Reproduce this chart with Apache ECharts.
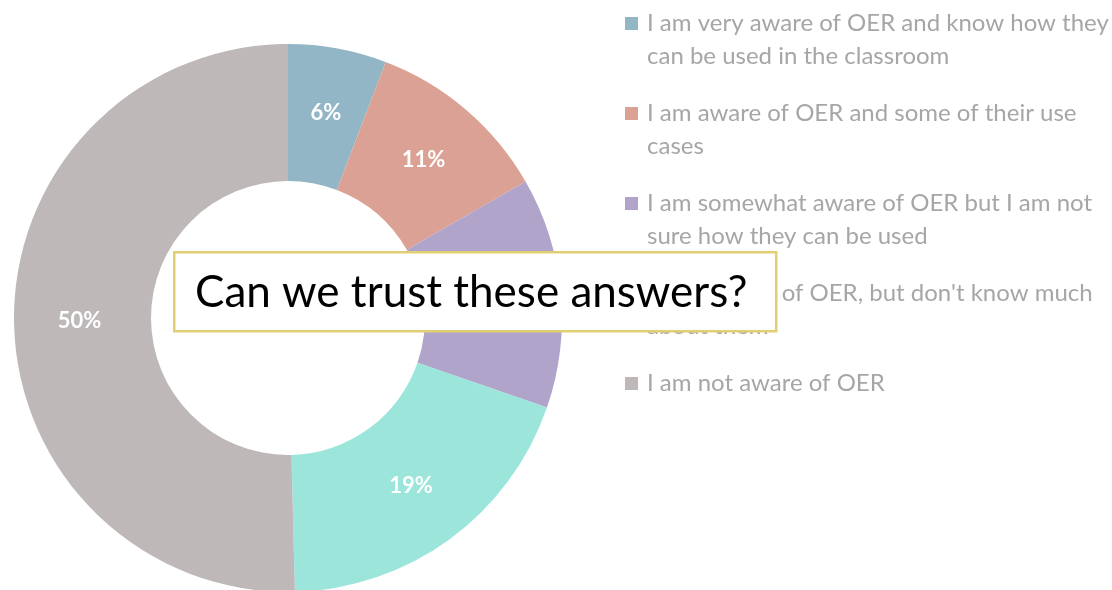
<!DOCTYPE html>
<html>
<head>
<meta charset="utf-8">
<title>OER awareness</title>
<script src="https://cdn.jsdelivr.net/npm/echarts@6/dist/echarts.min.js"></script>
<style>
  html, body { margin: 0; padding: 0; background: #fff; }
  #chart { width: 1112px; height: 590px; }
</style>
</head>
<body>
<div id="chart"></div>
<script>
// answers, in clockwise order from 12 o'clock
const categories = [
  'I am very aware of OER and know how they\ncan be used in the classroom',
  'I am aware of OER and some of their use\ncases',
  'I am somewhat aware of OER but I am not\nsure how they can be used',
  'I have heard of OER, but don\'t know much\nabout them',
  'I am not aware of OER'
]
const shares = [5.8, 10.9, 13.6, 19.3, 50.4]
const colors = ['#93B6C7', '#DBA194', '#B0A4CA', '#9BE5DB', '#BEB8B8']
const question = 'Can we trust these answers?'

// square drawn at the top of a taller box so it lines up with the first text line
const legendIcon = 'path://M0,0H13V13H0Z M0,46L0,46'

const chart = echarts.init(document.getElementById('chart'))

const option = {
  animation: false,
  color: colors,
  legend: {
    orient: 'vertical',
    left: 625,
    top: 7,
    padding: 0,
    itemWidth: 13,
    itemHeight: 46,
    itemGap: 24,
    selectedMode: false,
    icon: legendIcon,
    // one-line entries get a blank second line so every entry sits the same way
    formatter: name => (name.indexOf('\n') < 0 ? name + '\n ' : name),
    textStyle: {
      fontFamily: 'Lato',
      fontSize: 24,
      lineHeight: 33,
      color: '#A6A6A6',
      padding: [0, 0, 0, 4]
    },
    data: categories
  },
  graphic: [
    {
      type: 'group',
      left: 173,
      top: 251,
      zlevel: 1,
      z: 100,
      children: [
        {
          type: 'rect',
          zlevel: 1,
          z: 100,
          shape: { x: 0, y: 0, width: 602, height: 79 },
          style: { fill: '#fff', stroke: '#E3CF73', lineWidth: 2.5 }
        },
        {
          type: 'text',
          zlevel: 1,
          z: 101,
          x: 297,
          y: 41,
          style: {
            text: question,
            fontFamily: 'Lato',
            fontSize: 44,
            fill: '#000',
            align: 'center',
            verticalAlign: 'middle'
          }
        }
      ]
    }
  ],
  series: [
    {
      type: 'pie',
      center: [288, 318],
      radius: [137, 274],
      startAngle: 90,
      clockwise: true,
      avoidLabelOverlap: false,
      itemStyle: { borderWidth: 0 },
      label: {
        show: true,
        position: 'inside',
        formatter: p => Math.round(p.percent) + '%',
        color: '#fff',
        fontFamily: 'Lato',
        fontWeight: 'bold',
        fontSize: 22
      },
      labelLine: { show: false },
      emphasis: { disabled: true },
      data: categories.map((name, i) => ({ name: name, value: shares[i] }))
    }
  ]
}

chart.setOption(option)
</script>
</body>
</html>
